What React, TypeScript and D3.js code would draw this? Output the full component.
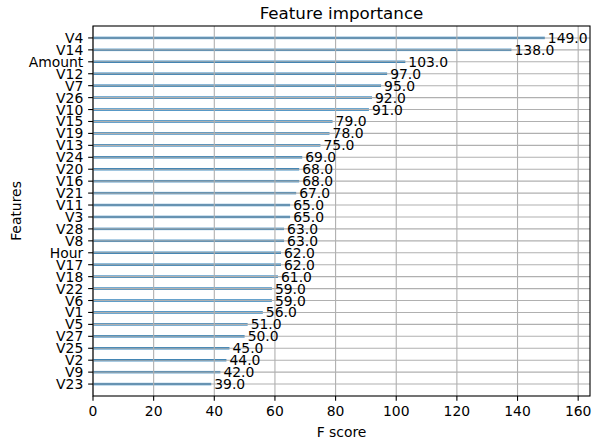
import React from "react";
import * as d3 from "d3";

const features = ["V4","V14","Amount","V12","V7","V26","V10","V15","V19","V13","V24","V20","V16","V21","V11","V3","V28","V8","Hour","V17","V18","V22","V6","V1","V5","V27","V25","V2","V9","V23"];
const scores = [149,138,103,97,95,92,91,79,78,75,69,68,68,67,65,65,63,63,62,62,61,59,59,56,51,50,45,44,42,39];
const xTicks = [0,20,40,60,80,100,120,140,160];

const W = 608, H = 446;
const L = 93, R = 590, T = 26, B = 396;
const FONT = "DejaVu Sans, sans-serif";

export default function App() {
  const n = features.length;
  const xMax = d3.max(scores)! * 1.1;
  const x = d3.scaleLinear().domain([0, xMax]).range([L, R]);
  // index 0 = bottom (last in list)
  const y = d3.scaleLinear().domain([-1, n]).range([B, T]);
  const pos = (i: number) => y(n - 1 - i);
  const barH = y(0) - y(0.2);
  const grid = "#b0b0b0";
  const tickLen = 4.86;
  return (
    <svg width={W} height={H} style={{ position: "absolute", left: 0, top: 0, background: "#fff" }}>
      <rect x={0} y={0} width={W} height={H} fill="#fff" />
      {features.map((f, i) => (
        <rect key={"b" + f} x={x(0)} y={pos(i) - barH / 2} width={x(scores[i]) - x(0)} height={barH} fill="#1f77b4" />
      ))}
      {xTicks.map((t) => (
        <line key={"gx" + t} x1={x(t)} x2={x(t)} y1={T} y2={B} stroke={grid} strokeWidth={1.1} />
      ))}
      {features.map((f, i) => (
        <line key={"gy" + f} x1={L} x2={R} y1={pos(i)} y2={pos(i)} stroke={grid} strokeWidth={1.1} />
      ))}
      {features.map((f, i) => (
        <text key={"v" + f} x={x(scores[i] + 1)} y={pos(i)} dominantBaseline="central" fontFamily={FONT} fontSize={13.9} fill="#000">
          {scores[i].toFixed(1)}
        </text>
      ))}
      <rect x={L} y={T} width={R - L} height={B - T} fill="none" stroke="#000" strokeWidth={1.1} />
      {xTicks.map((t) => (
        <g key={"tx" + t}>
          <line x1={x(t)} x2={x(t)} y1={B} y2={B + tickLen} stroke="#000" strokeWidth={1.1} />
          <text x={x(t)} y={B + tickLen + 4.86} dominantBaseline="hanging" textAnchor="middle" fontFamily={FONT} fontSize={13.9} fill="#000">{t}</text>
        </g>
      ))}
      {features.map((f, i) => (
        <g key={"ty" + f}>
          <line x1={L - tickLen} x2={L} y1={pos(i)} y2={pos(i)} stroke="#000" strokeWidth={1.1} />
          <text x={L - tickLen - 4.86} y={pos(i)} dominantBaseline="central" textAnchor="end" fontFamily={FONT} fontSize={13.9} fill="#000">{f}</text>
        </g>
      ))}
      <text x={(L + R) / 2} y={T - 7} textAnchor="middle" fontFamily={FONT} fontSize={16.7} fill="#000">Feature importance</text>
      <text x={(L + R) / 2} y={437} textAnchor="middle" fontFamily={FONT} fontSize={13.9} fill="#000">F score</text>
      <text transform={`translate(21, ${(T + B) / 2}) rotate(-90)`} textAnchor="middle" fontFamily={FONT} fontSize={13.9} fill="#000">Features</text>
    </svg>
  );
}
